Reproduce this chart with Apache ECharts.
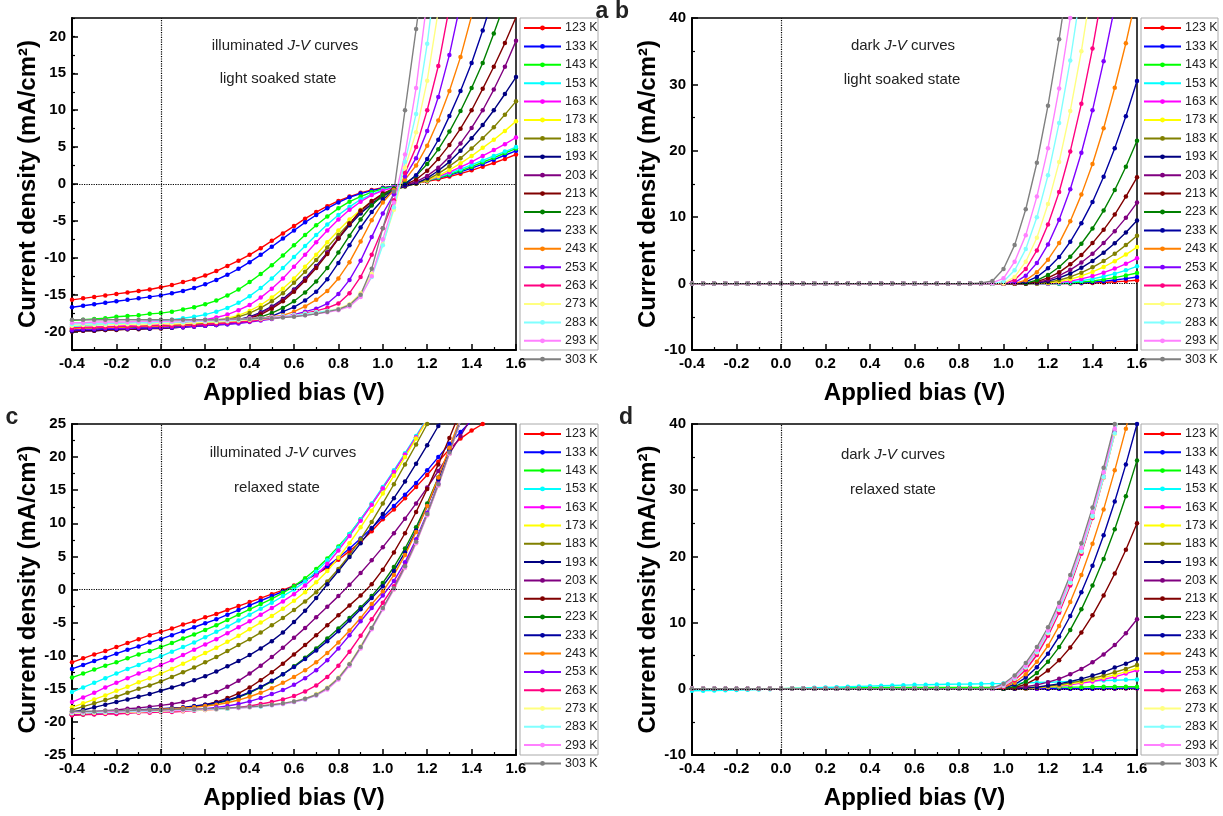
<!DOCTYPE html>
<html><head><meta charset="utf-8">
<script src="https://cdn.jsdelivr.net/npm/echarts@6/dist/echarts.min.js"></script>
<style>html,body{margin:0;padding:0;background:#fff}#chart{width:1223px;height:816px}</style>
</head><body><div id="chart"></div>
<script>
const volts = [-0.4,-0.35,-0.3,-0.25,-0.2,-0.15,-0.1,-0.05,0,0.05,0.1,0.15,0.2,0.25,0.3,0.35,0.4,0.45,0.5,0.55,0.6,0.65,0.7,0.75,0.8,0.85,0.9,0.95,1.0,1.05,1.1,1.15,1.2,1.25,1.3,1.35,1.4,1.45,1.5,1.55,1.6];
const temps = ['123 K','133 K','143 K','153 K','163 K','173 K','183 K','193 K','203 K','213 K','223 K','233 K','243 K','253 K','263 K','273 K','283 K','293 K','303 K'];

// Panel a: illuminated, light soaked
const a123 = [-15.7,-15.5,-15.3,-15.1,-14.9,-14.7,-14.5,-14.3,-14.0,-13.7,-13.3,-12.9,-12.4,-11.8,-11.1,-10.4,-9.6,-8.7,-7.7,-6.7,-5.7,-4.7,-3.8,-3.0,-2.3,-1.7,-1.2,-0.8,-0.5,-0.3,-0.1,0.1,0.35,0.65,1.0,1.4,1.85,2.35,2.85,3.4,4.0];
const a133 = [-16.7,-16.5,-16.3,-16.1,-15.9,-15.7,-15.5,-15.3,-15.1,-14.8,-14.5,-14.1,-13.6,-13.0,-12.3,-11.5,-10.6,-9.6,-8.5,-7.4,-6.3,-5.2,-4.2,-3.3,-2.5,-1.8,-1.3,-0.9,-0.55,-0.3,-0.1,0.15,0.45,0.8,1.2,1.65,2.15,2.7,3.3,3.9,4.5];
const a143 = [-18.5,-18.4,-18.3,-18.2,-18.0,-17.9,-17.8,-17.6,-17.5,-17.3,-17.0,-16.7,-16.3,-15.8,-15.1,-14.3,-13.3,-12.2,-11.0,-9.7,-8.3,-6.9,-5.6,-4.4,-3.3,-2.4,-1.7,-1.1,-0.65,-0.35,-0.1,0.15,0.45,0.85,1.3,1.8,2.35,2.95,3.55,4.2,4.8];
const a153 = [-19.3,-19.2,-19.1,-19.0,-18.9,-18.8,-18.7,-18.6,-18.5,-18.4,-18.2,-18.0,-17.7,-17.3,-16.8,-16.1,-15.2,-14.1,-12.8,-11.4,-9.9,-8.4,-6.9,-5.5,-4.2,-3.1,-2.1,-1.4,-0.8,-0.4,-0.1,0.15,0.5,0.95,1.45,2.0,2.6,3.2,3.8,4.4,5.0];
const a163 = [-19.6,-19.5,-19.4,-19.3,-19.3,-19.2,-19.1,-19.0,-19.0,-18.9,-18.8,-18.6,-18.4,-18.1,-17.7,-17.1,-16.4,-15.4,-14.2,-12.8,-11.2,-9.6,-7.9,-6.3,-4.8,-3.5,-2.4,-1.5,-0.9,-0.45,-0.15,0.1,0.5,1.0,1.6,2.3,3.0,3.8,4.6,5.4,6.3];
const a173 = [-19.7,-19.6,-19.5,-19.5,-19.4,-19.3,-19.3,-19.2,-19.2,-19.1,-19.0,-18.9,-18.7,-18.5,-18.2,-17.8,-17.2,-16.4,-15.4,-14.2,-12.8,-11.2,-9.6,-7.9,-6.3,-4.8,-3.5,-2.4,-1.5,-0.8,-0.3,0.05,0.5,1.1,1.9,2.8,3.8,4.9,6.0,7.2,8.5];
const a183 = [-19.8,-19.7,-19.7,-19.6,-19.5,-19.5,-19.4,-19.4,-19.3,-19.2,-19.1,-19.0,-18.9,-18.7,-18.4,-18.0,-17.5,-16.8,-15.9,-14.8,-13.4,-11.9,-10.3,-8.6,-6.9,-5.3,-3.9,-2.7,-1.7,-0.9,-0.35,0.05,0.6,1.4,2.4,3.5,4.8,6.2,7.7,9.4,11.2];
const a193 = [-20.0,-19.9,-19.9,-19.8,-19.7,-19.7,-19.6,-19.6,-19.5,-19.4,-19.3,-19.2,-19.1,-18.9,-18.7,-18.4,-18.0,-17.4,-16.6,-15.6,-14.3,-12.8,-11.1,-9.3,-7.4,-5.6,-4.0,-2.7,-1.6,-0.8,-0.3,0.1,0.8,1.8,3.0,4.5,6.2,8.0,10.0,12.2,14.5];
const a203 = [-19.9,-19.8,-19.8,-19.7,-19.7,-19.6,-19.6,-19.5,-19.5,-19.4,-19.3,-19.2,-19.1,-19.0,-18.8,-18.5,-18.1,-17.5,-16.7,-15.7,-14.4,-12.9,-11.2,-9.3,-7.3,-5.4,-3.7,-2.4,-1.4,-0.7,-0.2,0.3,1.1,2.2,3.7,5.5,7.6,10.0,12.8,15.9,19.4];
const a213 = [-20.0,-19.9,-19.9,-19.8,-19.8,-19.7,-19.7,-19.6,-19.6,-19.5,-19.4,-19.3,-19.2,-19.1,-18.9,-18.6,-18.2,-17.7,-16.9,-15.9,-14.6,-13.1,-11.4,-9.5,-7.4,-5.4,-3.6,-2.3,-1.3,-0.6,-0.1,0.6,1.8,3.4,5.3,7.5,10.0,12.9,15.9,19.1,22.6];
const a223 = [-19.8,-19.7,-19.7,-19.6,-19.6,-19.5,-19.5,-19.5,-19.4,-19.4,-19.3,-19.2,-19.1,-19.0,-18.9,-18.7,-18.4,-18.0,-17.5,-16.8,-15.9,-14.7,-13.2,-11.4,-9.3,-7.0,-4.8,-2.9,-1.5,-0.6,0.1,1.1,2.7,4.7,7.1,9.9,13.0,16.4,20.4,24.6];
const a233 = [-19.9,-19.8,-19.8,-19.7,-19.7,-19.6,-19.6,-19.6,-19.5,-19.5,-19.4,-19.3,-19.2,-19.1,-19.0,-18.8,-18.6,-18.3,-17.9,-17.3,-16.7,-15.8,-14.6,-12.9,-10.7,-8.3,-5.9,-3.8,-2.1,-0.9,-0.1,1.2,3.4,6.0,9.2,12.6,16.4,20.8,25.6];
const a243 = [-19.6,-19.5,-19.5,-19.4,-19.4,-19.4,-19.3,-19.3,-19.3,-19.2,-19.2,-19.1,-19.0,-18.9,-18.8,-18.6,-18.4,-18.2,-18.0,-17.8,-17.3,-16.6,-15.7,-14.5,-12.8,-10.6,-7.8,-4.9,-2.5,-0.8,0.6,2.5,5.2,8.6,12.6,17.2,22.8,29.0];
const a253 = [-19.8,-19.7,-19.7,-19.6,-19.6,-19.6,-19.5,-19.5,-19.5,-19.4,-19.4,-19.3,-19.2,-19.1,-19.0,-18.9,-18.7,-18.5,-18.3,-18.0,-17.7,-17.3,-16.9,-16.2,-14.9,-13.0,-10.4,-7.2,-4.0,-1.4,1.0,3.5,7.2,11.8,17.5,24.5];
const a263 = [-19.5,-19.4,-19.4,-19.4,-19.3,-19.3,-19.3,-19.2,-19.2,-19.2,-19.1,-19.1,-19.0,-18.9,-18.8,-18.7,-18.6,-18.4,-18.2,-18.0,-17.8,-17.5,-17.2,-16.8,-16.2,-14.8,-12.6,-9.6,-6.0,-2.2,1.5,5.0,10.0,16.0,24.0];
const a273 = [-19.2,-19.1,-19.1,-19.1,-19.0,-19.0,-19.0,-19.0,-18.9,-18.9,-18.9,-18.8,-18.7,-18.7,-18.6,-18.5,-18.4,-18.3,-18.2,-18.0,-17.8,-17.6,-17.4,-17.2,-16.9,-16.3,-14.8,-12.2,-8.2,-3.5,2.2,7.0,14.0,23.5];
const a283 = [-19.0,-18.9,-18.9,-18.9,-18.8,-18.8,-18.8,-18.8,-18.7,-18.7,-18.7,-18.6,-18.6,-18.5,-18.5,-18.4,-18.3,-18.2,-18.1,-17.9,-17.8,-17.6,-17.4,-17.2,-17.0,-16.5,-15.1,-12.6,-8.3,-3.2,3.0,9.5,19.0,31.0];
const a293 = [-18.8,-18.8,-18.7,-18.7,-18.7,-18.7,-18.6,-18.6,-18.6,-18.6,-18.5,-18.5,-18.5,-18.4,-18.4,-18.3,-18.2,-18.2,-18.1,-18.0,-17.9,-17.8,-17.6,-17.4,-17.1,-16.6,-15.3,-12.5,-7.5,-2.5,4.0,13.0,25.0];
const a303 = [-18.4,-18.4,-18.4,-18.4,-18.4,-18.4,-18.4,-18.4,-18.4,-18.4,-18.4,-18.4,-18.4,-18.4,-18.3,-18.3,-18.3,-18.2,-18.2,-18.1,-18.0,-17.8,-17.6,-17.3,-17.0,-16.4,-15.0,-11.5,-6.0,-1.0,10.0,21.0,32.0];

// Panel b: dark, light soaked
const b123 = [0,0,0,0,0,0,0,0,0,0,0,0,0,0,0,0,0,0,0,0,0,0,0,0,0,0,0,0,0,0,0,0,0,0,0,0.04,0.1,0.17,0.27,0.38,0.5];
const b133 = [0,0,0,0,0,0,0,0,0,0,0,0,0,0,0,0,0,0,0,0,0,0,0,0,0,0,0,0,0,0,0,0,0,0,0.04,0.12,0.22,0.37,0.54,0.75,1.0];
const b143 = [0,0,0,0,0,0,0,0,0,0,0,0,0,0,0,0,0,0,0,0,0,0,0,0,0,0,0,0,0,0,0,0,0,0,0.1,0.23,0.4,0.63,0.9,1.23,1.6];
const b153 = [0,0,0,0,0,0,0,0,0,0,0,0,0,0,0,0,0,0,0,0,0,0,0,0,0,0,0,0,0,0,0,0,0,0.07,0.21,0.42,0.71,1.07,1.5,2.0,2.6];
const b163 = [0,0,0,0,0,0,0,0,0,0,0,0,0,0,0,0,0,0,0,0,0,0,0,0,0,0,0,0,0,0,0,0,0,0.16,0.38,0.71,1.13,1.65,2.27,2.98,3.8];
const b173 = [0,0,0,0,0,0,0,0,0,0,0,0,0,0,0,0,0,0,0,0,0,0,0,0,0,0,0,0,0,0,0,0,0.09,0.31,0.67,1.15,1.76,2.5,3.37,4.37,5.5];
const b183 = [0,0,0,0,0,0,0,0,0,0,0,0,0,0,0,0,0,0,0,0,0,0,0,0,0,0,0,0,0,0,0,0.03,0.2,0.53,1.0,1.65,2.45,3.4,4.5,5.8,7.2];
const b193 = [0,0,0,0,0,0,0,0,0,0,0,0,0,0,0,0,0,0,0,0,0,0,0,0,0,0,0,0,0,0,0,0.1,0.38,0.86,1.52,2.38,3.42,4.66,6.08,7.7,9.5];
const b203 = [0,0,0,0,0,0,0,0,0,0,0,0,0,0,0,0,0,0,0,0,0,0,0,0,0,0,0,0,0,0,0,0.17,0.57,1.2,2.07,3.17,4.5,6.1,7.9,9.9,12.2];
const b213 = [0,0,0,0,0,0,0,0,0,0,0,0,0,0,0,0,0,0,0,0,0,0,0,0,0,0,0,0,0,0,0,0.3,0.85,1.7,2.9,4.3,6.1,8.1,10.4,13.1,16.0];
const b223 = [0,0,0,0,0,0,0,0,0,0,0,0,0,0,0,0,0,0,0,0,0,0,0,0,0,0,0,0,0,0,0.07,0.5,1.3,2.5,4.05,6.0,8.3,11.0,14.1,17.6,21.5];
const b233 = [0,0,0,0,0,0,0,0,0,0,0,0,0,0,0,0,0,0,0,0,0,0,0,0,0,0,0,0,0,0,0.25,1.0,2.3,4.0,6.3,9.1,12.3,16.1,20.4,25.2,30.5];
const b243 = [0,0,0,0,0,0,0,0,0,0,0,0,0,0,0,0,0,0,0,0,0,0,0,0,0,0,0,0,0,0,0.5,1.7,3.6,6.1,9.4,13.4,18.0,23.4,29.5,36.2,43.7];
const b253 = [0,0,0,0,0,0,0,0,0,0,0,0,0,0,0,0,0,0,0,0,0,0,0,0,0,0,0,0,0,0.16,1.2,3.1,5.9,9.6,14.2,19.7,26.1,33.5,41.7];
const b263 = [0,0,0,0,0,0,0,0,0,0,0,0,0,0,0,0,0,0,0,0,0,0,0,0,0,0,0,0,0,0.55,2.2,5.0,8.9,13.8,19.9,27.1,35.4,44.9];
const b273 = [0,0,0,0,0,0,0,0,0,0,0,0,0,0,0,0,0,0,0,0,0,0,0,0,0,0,0,0,0,1.0,3.3,6.9,12.0,18.3,26.0,35.0,45.6];
const b283 = [0,0,0,0,0,0,0,0,0,0,0,0,0,0,0,0,0,0,0,0,0,0,0,0,0,0,0,0,0.3,2.0,5.2,10.0,16.3,24.2,33.6,44.6];
const b293 = [0,0,0,0,0,0,0,0,0,0,0,0,0,0,0,0,0,0,0,0,0,0,0,0,0,0,0,0.1,0.8,3.3,7.3,13.1,20.4,29.4,40.0,52.0];
const b303 = [0,0,0,0,0,0,0,0,0,0,0,0,0,0,0,0,0,0,0,0,0,0,0,0,0,0,0.1,0.4,2.2,5.8,11.2,18.2,26.8,36.8,48.0];

// Panel c: illuminated, relaxed
const c123 = [-11.0,-10.4,-9.8,-9.3,-8.7,-8.1,-7.5,-6.9,-6.4,-5.9,-5.3,-4.8,-4.2,-3.7,-3.1,-2.5,-1.9,-1.3,-0.7,-0.1,0.6,1.4,2.3,3.3,4.5,5.8,7.2,8.8,10.6,12.1,13.8,15.5,17.3,19.3,21.2,22.8,24.0,25.0,26.0];
const c133 = [-12.0,-11.4,-10.8,-10.3,-9.7,-9.1,-8.6,-8.0,-7.5,-6.9,-6.3,-5.7,-5.1,-4.5,-3.8,-3.1,-2.4,-1.7,-1.0,-0.3,0.5,1.4,2.4,3.5,4.8,6.2,7.7,9.3,10.9,12.6,14.3,16.1,18.0,20.0,22.0,23.8,25.5];
const c143 = [-13.3,-12.7,-12.1,-11.5,-11.0,-10.4,-9.8,-9.3,-8.7,-8.1,-7.4,-6.8,-6.1,-5.4,-4.6,-3.8,-3.0,-2.2,-1.4,-0.5,0.5,1.7,3.1,4.7,6.5,8.4,10.6,12.9,15.3,17.8,20.4,23.0,25.7];
const c153 = [-15.5,-14.8,-14.1,-13.4,-12.7,-12.0,-11.4,-10.7,-10.1,-9.4,-8.7,-8.0,-7.2,-6.4,-5.6,-4.7,-3.8,-2.9,-2.0,-1.0,0.0,1.2,2.7,4.4,6.3,8.4,10.6,13.0,15.5,18.0,20.6,23.2,25.9];
const c163 = [-17.0,-16.3,-15.6,-14.8,-14.1,-13.4,-12.7,-12.1,-11.4,-10.7,-9.9,-9.1,-8.3,-7.5,-6.6,-5.7,-4.8,-3.8,-2.8,-1.8,-0.7,0.6,2.1,3.9,5.9,8.1,10.4,12.8,15.3,17.8,20.4,23.0,25.7];
const c173 = [-17.8,-17.2,-16.6,-16.0,-15.3,-14.7,-14.0,-13.4,-12.7,-12.0,-11.2,-10.4,-9.6,-8.8,-7.9,-7.0,-6.0,-5.0,-4.0,-2.9,-1.7,-0.4,1.1,2.8,4.8,7.0,9.4,11.9,14.5,17.2,20.0,22.8,25.6];
const c183 = [-18.2,-17.7,-17.2,-16.7,-16.2,-15.6,-15.0,-14.5,-13.9,-13.2,-12.5,-11.8,-11.0,-10.2,-9.3,-8.4,-7.5,-6.5,-5.4,-4.3,-3.1,-1.8,-0.4,1.2,3.1,5.2,7.6,10.2,13.0,15.9,18.9,21.9,25.0];
const c193 = [-18.5,-18.2,-17.8,-17.4,-17.0,-16.6,-16.2,-15.8,-15.3,-14.8,-14.3,-13.7,-13.1,-12.4,-11.6,-10.8,-9.9,-8.9,-7.8,-6.5,-4.9,-3.2,-1.3,0.8,2.8,4.9,7.0,9.2,11.4,13.8,16.3,19.0,21.8,24.7,27.6];
const c203 = [-18.8,-18.6,-18.5,-18.3,-18.2,-18.0,-17.9,-17.7,-17.5,-17.3,-17.0,-16.6,-16.1,-15.5,-14.7,-13.8,-12.7,-11.5,-10.2,-8.8,-7.3,-5.8,-4.2,-2.6,-1.0,0.7,2.5,4.4,6.4,8.5,10.7,13.0,15.4,17.9,20.5,23.2,26.0];
const c213 = [-19.0,-18.9,-18.8,-18.7,-18.6,-18.5,-18.4,-18.3,-18.2,-18.1,-17.9,-17.7,-17.4,-17.0,-16.4,-15.7,-14.8,-13.7,-12.5,-11.2,-9.8,-8.4,-6.9,-5.4,-3.9,-2.4,-0.9,0.8,3.0,5.6,8.5,11.7,15.2,18.9,22.9,27.0];
const c223 = [-18.9,-18.8,-18.7,-18.6,-18.5,-18.4,-18.3,-18.2,-18.1,-18.0,-17.9,-17.7,-17.5,-17.2,-16.8,-16.3,-15.6,-14.8,-13.9,-12.8,-11.6,-10.3,-8.9,-7.4,-5.9,-4.3,-2.7,-1.0,1.0,3.4,6.2,9.4,13.0,16.9,21.0,25.3];
const c233 = [-18.8,-18.7,-18.6,-18.5,-18.4,-18.3,-18.2,-18.1,-18.0,-17.9,-17.8,-17.6,-17.4,-17.1,-16.7,-16.2,-15.5,-14.7,-13.8,-12.8,-11.7,-10.5,-9.2,-7.8,-6.3,-4.7,-3.0,-1.3,0.5,2.8,5.6,8.9,12.6,16.6,20.9,25.4];
const c243 = [-18.7,-18.6,-18.6,-18.5,-18.4,-18.3,-18.3,-18.2,-18.1,-18.0,-17.9,-17.8,-17.6,-17.4,-17.1,-16.7,-16.2,-15.6,-14.9,-14.1,-13.2,-12.2,-11.0,-9.6,-8.0,-6.2,-4.3,-2.2,-0.3,2.2,5.2,8.7,12.6,16.9,21.4,26.0];
const c253 = [-18.9,-18.8,-18.8,-18.7,-18.6,-18.6,-18.5,-18.4,-18.4,-18.3,-18.2,-18.1,-18.0,-17.8,-17.6,-17.3,-16.9,-16.4,-15.8,-15.2,-14.4,-13.4,-12.2,-10.7,-8.9,-6.9,-4.8,-2.8,-0.9,1.3,4.1,7.6,11.6,16.0,20.7,25.6];
const c263 = [-19.0,-18.9,-18.9,-18.8,-18.8,-18.7,-18.6,-18.6,-18.5,-18.5,-18.4,-18.3,-18.2,-18.1,-18.0,-17.8,-17.6,-17.3,-17.0,-16.6,-16.1,-15.4,-14.5,-13.2,-11.5,-9.4,-7.0,-4.5,-2.0,0.5,3.6,7.2,11.3,15.8,20.6,25.6];
const c273 = [-18.7,-18.7,-18.6,-18.6,-18.5,-18.5,-18.5,-18.4,-18.4,-18.3,-18.3,-18.2,-18.2,-18.1,-18.0,-17.9,-17.8,-17.6,-17.4,-17.2,-16.9,-16.5,-15.8,-14.8,-13.3,-11.2,-8.6,-5.8,-2.9,0.0,3.3,7.0,11.2,15.7,20.5,25.5];
const c283 = [-18.6,-18.6,-18.5,-18.5,-18.5,-18.4,-18.4,-18.4,-18.3,-18.3,-18.2,-18.2,-18.1,-18.1,-18.0,-17.9,-17.8,-17.7,-17.5,-17.3,-17.0,-16.6,-16.0,-15.0,-13.5,-11.4,-8.8,-5.9,-2.9,0.1,3.4,7.1,11.3,15.8,20.6,25.6];
const c293 = [-18.5,-18.5,-18.4,-18.4,-18.4,-18.3,-18.3,-18.3,-18.2,-18.2,-18.2,-18.1,-18.1,-18.0,-17.9,-17.9,-17.8,-17.6,-17.5,-17.3,-17.0,-16.6,-16.0,-15.1,-13.6,-11.5,-8.9,-6.0,-3.0,0.0,3.3,7.0,11.2,15.7,20.5,25.5];
const c303 = [-18.4,-18.4,-18.4,-18.3,-18.3,-18.3,-18.2,-18.2,-18.2,-18.1,-18.1,-18.1,-18.0,-18.0,-17.9,-17.8,-17.7,-17.6,-17.4,-17.2,-16.9,-16.5,-15.9,-14.9,-13.4,-11.3,-8.7,-5.8,-2.8,0.2,3.5,7.2,11.4,15.9,20.7,25.7];

// Panel d: dark, relaxed
const d123 = [0,0,0,0,0,0,0,0,0,0,0,0,0,0,0,0,0,0,0,0,0,0,0,0,0,0,0,0,0,0,0,0,0,0,0,0,0,0,0.02,0.04,0.05];
const d133 = [0,0,0,0,0,0,0,0,0,0,0,0,0,0,0,0,0,0,0,0,0,0,0,0,0,0,0,0,0,0,0,0,0,0,0,0,0.02,0.04,0.06,0.08,0.1];
const d143 = [-0.1,-0.1,-0.1,-0.05,-0.05,0,0,0,0,0.05,0.05,0.1,0.1,0.1,0.15,0.15,0.15,0.2,0.2,0.2,0.2,0.2,0.2,0.2,0.2,0.2,0.2,0.2,0.2,0.2,0.2,0.25,0.25,0.25,0.25,0.25,0.3,0.3,0.3,0.3,0.3];
const d153 = [-0.3,-0.28,-0.25,-0.22,-0.2,-0.15,-0.1,-0.05,0,0.05,0.1,0.15,0.2,0.25,0.3,0.35,0.4,0.45,0.5,0.55,0.6,0.62,0.65,0.68,0.7,0.72,0.75,0.78,0.8,0.85,0.9,0.95,1.0,1.05,1.1,1.15,1.2,1.25,1.3,1.35,1.4];
const d163 = [0,0,0,0,0,0,0,0,0,0,0,0,0,0,0,0,0,0,0,0,0,0,0,0,0,0,0,0,0,0,0,0.1,0.25,0.4,0.6,0.85,1.1,1.45,1.8,2.3,2.8];
const d173 = [0,0,0,0,0,0,0,0,0,0,0,0,0,0,0,0,0,0,0,0,0,0,0,0,0,0,0,0,0,0,0,0.15,0.3,0.5,0.75,1.0,1.35,1.7,2.1,2.6,3.1];
const d183 = [0,0,0,0,0,0,0,0,0,0,0,0,0,0,0,0,0,0,0,0,0,0,0,0,0,0,0,0,0,0,0.1,0.2,0.4,0.6,0.9,1.2,1.6,2.0,2.5,3.0,3.6];
const d193 = [0,0,0,0,0,0,0,0,0,0,0,0,0,0,0,0,0,0,0,0,0,0,0,0,0,0,0,0,0,0,0.1,0.25,0.5,0.75,1.1,1.5,2.0,2.5,3.2,3.8,4.5];
const d203 = [0,0,0,0,0,0,0,0,0,0,0,0,0,0,0,0,0,0,0,0,0,0,0,0,0,0,0,0,0,0.1,0.3,0.6,1.0,1.5,2.2,3.0,4.0,5.2,6.6,8.4,10.5];
const d213 = [0,0,0,0,0,0,0,0,0,0,0,0,0,0,0,0,0,0,0,0,0,0,0,0,0,0,0,0,0,0.17,0.69,1.56,2.78,4.3,6.25,8.5,11.1,14.1,17.4,21.0,25.0];
const d223 = [0,0,0,0,0,0,0,0,0,0,0,0,0,0,0,0,0,0,0,0,0,0,0,0,0,0,0,0,0,0.33,1.12,2.37,4.1,6.3,8.9,12.0,15.6,19.6,24.1,29.1,34.5];
const d233 = [0,0,0,0,0,0,0,0,0,0,0,0,0,0,0,0,0,0,0,0,0,0,0,0,0,0,0,0,0.09,0.65,1.7,3.27,5.3,7.9,11.0,14.6,18.6,23.2,28.3,33.9,40.0];
const d243 = [0,0,0,0,0,0,0,0,0,0,0,0,0,0,0,0,0,0,0,0,0,0,0,0,0,0,0,0,0.18,0.92,2.2,4.1,6.5,9.5,13.1,17.2,21.9,27.1,33.0,39.3,46.3];
const d253 = [0,0,0,0,0,0,0,0,0,0,0,0,0,0,0,0,0,0,0,0,0,0,0,0,0,0,0,0,0.4,1.4,3.0,5.3,8.2,11.7,15.8,20.6,26.0,32.0,38.7,46.0];
const d263 = [0,0,0,0,0,0,0,0,0,0,0,0,0,0,0,0,0,0,0,0,0,0,0,0,0,0,0,0,0.32,1.28,2.87,5.1,8.0,11.5,15.6,20.4,25.8,31.9,38.6,45.9];
const d273 = [0,0,0,0,0,0,0,0,0,0,0,0,0,0,0,0,0,0,0,0,0,0,0,0,0,0,0,0,0.45,1.5,3.2,5.5,8.4,11.9,16.0,20.7,26.0,31.9,38.5,45.7];
const d283 = [0,0,0,0,0,0,0,0,0,0,0,0,0,0,0,0,0,0,0,0,0,0,0,0,0,0,0,0,0.5,1.6,3.3,5.6,8.5,12.0,16.1,20.8,26.1,32.0,38.6,45.8];
const d293 = [0,0,0,0,0,0,0,0,0,0,0,0,0,0,0,0,0,0,0,0,0,0,0,0,0,0,0,0,0.6,1.74,3.5,5.86,8.8,12.4,16.6,21.3,26.7,32.7,39.3,46.5];
const d303 = [0,0,0,0,0,0,0,0,0,0,0,0,0,0,0,0,0,0,0,0,0,0,0,0,0,0,0,0.1,0.76,2.0,3.9,6.3,9.3,13.0,17.2,22.0,27.4,33.4,40.0,47.0];

const panelA = [a123,a133,a143,a153,a163,a173,a183,a193,a203,a213,a223,a233,a243,a253,a263,a273,a283,a293,a303];
const panelB = [b123,b133,b143,b153,b163,b173,b183,b193,b203,b213,b223,b233,b243,b253,b263,b273,b283,b293,b303];
const panelC = [c123,c133,c143,c153,c163,c173,c183,c193,c203,c213,c223,c233,c243,c253,c263,c273,c283,c293,c303];
const panelD = [d123,d133,d143,d153,d163,d173,d183,d193,d203,d213,d223,d233,d243,d253,d263,d273,d283,d293,d303];

const colors = ['#FF0000','#0000FF','#00FF00','#00FFFF','#FF00FF','#FFFF00','#808000','#000080','#800080','#800000','#008000','#0000A0','#FF8000','#8000FF','#FF0080','#FFFF80','#80FFFF','#FF80FF','#808080'];

const FONT = "'Liberation Sans', Arial, sans-serif";
const grids = [
  {left: 72, top: 18, width: 444, height: 332},
  {left: 692, top: 18, width: 445, height: 332},
  {left: 72, top: 424, width: 444, height: 331},
  {left: 692, top: 424, width: 445, height: 331}
];
const yRanges = [[-22.5, 22.5], [-10, 40], [-25, 25], [-10, 40]];
const yNameGaps = [32, 30, 32, 30];

const axisLineStyle = {onZero: false, lineStyle: {color: '#000', width: 2}};
const labelStyle = {color: '#000', fontSize: 15, fontWeight: 'bold', fontFamily: FONT};
const nameStyle = {color: '#000', fontSize: 24, fontWeight: 'bold', fontFamily: FONT};

const xAxes = grids.map((g, i) => ({
  type: 'value', gridIndex: i, position: 'bottom', min: -0.4, max: 1.6, interval: 0.2,
  axisLine: axisLineStyle,
  axisTick: {inside: true, length: 6, lineStyle: {color: '#000', width: 1.5}},
  minorTick: {show: true, splitNumber: 2, length: 3, lineStyle: {color: '#000', width: 1.2}},
  axisLabel: Object.assign({margin: 6, formatter: v => v.toFixed(1)}, labelStyle),
  splitLine: {show: false},
  name: 'Applied bias (V)', nameLocation: 'middle', nameGap: 31, nameTextStyle: nameStyle
}));

const yAxes = grids.map((g, i) => {
  const ax = {
    type: 'value', gridIndex: i, position: 'left', min: yRanges[i][0], max: yRanges[i][1],
    axisLine: axisLineStyle,
    axisTick: {inside: true, length: 6, lineStyle: {color: '#000', width: 1.5}},
    axisLabel: Object.assign({margin: 6}, labelStyle),
    splitLine: {show: false},
    name: 'Current density (mA/cm²)', nameLocation: 'middle', nameGap: yNameGaps[i], nameTextStyle: nameStyle
  };
  if (i === 0) {
    ax.splitNumber = 9;
    ax.axisLabel.showMinLabel = false;
    ax.axisLabel.showMaxLabel = false;
  } else {
    ax.interval = (i === 2) ? 5 : 10;
    ax.minorTick = {show: true, splitNumber: 2, length: 3, lineStyle: {color: '#000', width: 1.2}};
  }
  return ax;
});
// minor ticks for panel a (every 2.5)
yAxes.push({
  type: 'value', gridIndex: 0, position: 'left', min: -22.5, max: 22.5, interval: 2.5,
  axisLine: {show: false, onZero: false}, axisLabel: {show: false}, splitLine: {show: false},
  axisTick: {inside: true, length: 3, lineStyle: {color: '#000', width: 1.2}}
});

const panelsData = [panelA, panelB, panelC, panelD];
const series = [];
panelsData.forEach((pd, p) => {
  pd.forEach((arr, j) => {
    const s = {
      name: temps[j], type: 'line', xAxisIndex: p, yAxisIndex: p,
      data: arr.map((v, k) => [volts[k], v]),
      symbol: 'circle', symbolSize: 4.5, showSymbol: true,
      lineStyle: {width: 1.4, color: colors[j]},
      itemStyle: {color: colors[j]},
      clip: true, animation: false
    };
    if (j === 0) {
      s.markLine = {
        silent: true, symbol: 'none', animation: false,
        label: {show: false},
        lineStyle: {type: 'dotted', color: '#000', width: 1.2},
        data: [{xAxis: 0}, {yAxis: 0}]
      };
    }
    series.push(s);
  });
});

const legendPos = [
  {left: 523, top: 21.5, gap: 5.4},
  {left: 1143, top: 21.5, gap: 5.4},
  {left: 523, top: 427.5, gap: 5.3},
  {left: 1143, top: 427.5, gap: 5.3}
];
const legends = legendPos.map(lp => ({
  orient: 'vertical', left: lp.left, top: lp.top, itemGap: lp.gap,
  itemWidth: 37, itemHeight: 6, padding: 0, selectedMode: false,
  textStyle: {fontSize: 12.5, color: '#222', fontFamily: FONT, padding: [0, 0, 0, -1]},
  data: temps
}));

const boxes = [[520, 18, 78, 332], [1141, 18, 77, 332], [520, 424, 78, 331], [1141, 424, 77, 331]];
const graphic = boxes.map(b => ({
  type: 'rect', z: 0, shape: {x: b[0], y: b[1], width: b[2], height: b[3]},
  style: {fill: '#fff', stroke: '#aaa', lineWidth: 1}
}));
const rich = {
  n: {fontSize: 15, fontFamily: FONT, fill: '#222'},
  i: {fontSize: 15, fontFamily: FONT, fontStyle: 'italic', fill: '#222'}
};
const notes = [
  [285, 46, '{n|illuminated }{i|J-V}{n| curves}'],
  [278, 79, '{n|light soaked state}'],
  [903, 46, '{n|dark }{i|J-V}{n| curves}'],
  [902, 80, '{n|light soaked state}'],
  [283, 453, '{n|illuminated }{i|J-V}{n| curves}'],
  [277, 488, '{n|relaxed state}'],
  [893, 455, '{n|dark }{i|J-V}{n| curves}'],
  [893, 490, '{n|relaxed state}']
];
notes.forEach(n => graphic.push({
  type: 'text', x: n[0], y: n[1], z: 10,
  style: {text: n[2], rich: rich, align: 'center', verticalAlign: 'middle', fill: '#222'}
}));
const letters = [[602, 12, 'a'], [622, 12, 'b'], [12, 418, 'c'], [626, 418, 'd']];
letters.forEach(l => graphic.push({
  type: 'text', x: l[0], y: l[1], z: 10,
  style: {text: l[2], font: 'bold 23px ' + FONT, fill: '#222', align: 'center', verticalAlign: 'middle'}
}));

const chart = echarts.init(document.getElementById('chart'), null, {renderer: 'canvas'});
chart.setOption({
  backgroundColor: '#fff',
  animation: false,
  textStyle: {fontFamily: FONT},
  grid: grids.map(g => Object.assign({show: true, borderColor: '#000', borderWidth: 1.5, backgroundColor: 'transparent'}, g)),
  xAxis: xAxes,
  yAxis: yAxes,
  legend: legends,
  graphic: graphic,
  series: series
});
</script></body></html>
